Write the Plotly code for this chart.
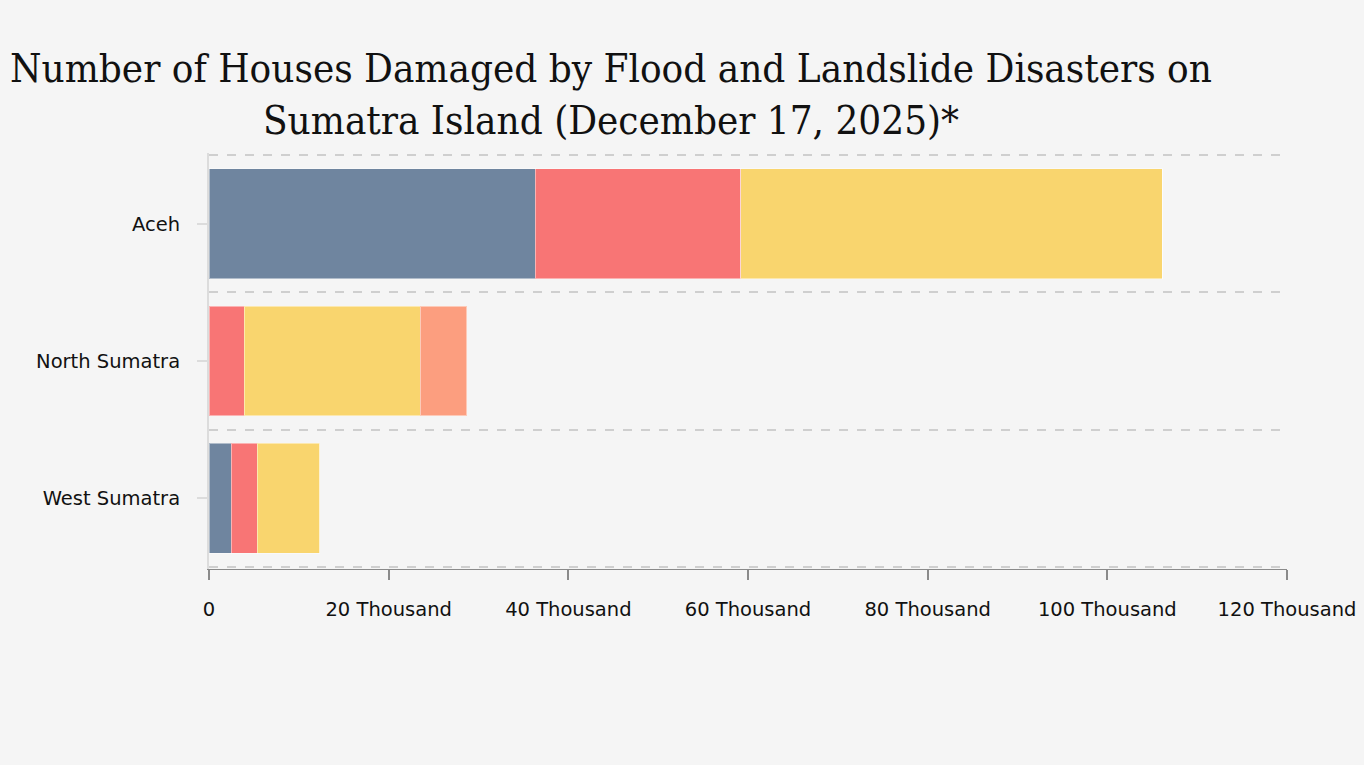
import plotly.graph_objects as go

categories = ["Aceh", "North Sumatra", "West Sumatra"]
series_names = ["Heavily Damaged", "Moderately Damaged", "Lightly Damaged", "Other"]
heavy = [36300, 0, 2450]
moderate = [22900, 3900, 2900]
light = [46900, 19600, 7000]
other = [0, 5200, 0]
series_values = [heavy, moderate, light, other]
series_colors = ["#6f859f", "#f87575", "#f9d56e", "#fc9e7f"]

x_tickvals = [0, 20000, 40000, 60000, 80000, 100000, 120000]
x_ticktext = ["0", "20 Thousand", "40 Thousand", "60 Thousand", "80 Thousand", "100 Thousand", "120 Thousand"]

title_text = "Number of Houses Damaged by Flood and Landslide Disasters on<br>Sumatra Island (December 17, 2025)*"

ypos = list(range(len(categories)))

fig = go.Figure()
for name, vals, col in zip(series_names, series_values, series_colors):
    fig.add_trace(go.Bar(
        y=ypos, x=vals, name=name, orientation="h",
        marker=dict(color=col, line=dict(color="rgba(255,255,255,0.45)", width=1)),
        width=0.8,
        customdata=categories,
        hovertemplate="%{customdata}<br>" + name + ": %{x:,}<extra></extra>",
    ))

fig.update_layout(
    barmode="stack",
    width=1364, height=765,
    paper_bgcolor="#f5f5f5", plot_bgcolor="#f5f5f5",
    margin=dict(l=209, r=77, t=153, b=196),
    showlegend=False,
    title=dict(
        text=title_text,
        x=611 / 1364, xanchor="center", xref="container",
        y=1 - 82 / 765, yanchor="top",
        font=dict(family="DejaVu Serif Condensed, DejaVu Serif, serif", size=40, color="#111"),
    ),
    font=dict(family="DejaVu Sans, Verdana, sans-serif", size=19.5, color="#111"),
)

fig.update_xaxes(
    range=[0, 120000],
    tickvals=x_tickvals, ticktext=x_ticktext,
    showgrid=False, zeroline=False,
    showline=True, linecolor="#8a8a8a", linewidth=1,
    ticks="outside", ticklen=10, tickcolor="#8a8a8a", tickwidth=2,
    ticklabelstandoff=13,
    tickfont=dict(size=19.5, color="#111"),
    automargin=False,
)

fig.update_yaxes(
    range=[2.515, -0.515],
    tickvals=ypos, ticktext=categories,
    showgrid=False, zeroline=False,
    showline=True, linecolor="#dcdcdc", linewidth=2,
    ticks="outside", ticklen=10, tickcolor="#dcdcdc", tickwidth=2,
    ticklabelstandoff=13,
    tickfont=dict(size=19.5, color="#111"),
    minor=dict(tick0=0.5, dtick=1, showgrid=True, gridcolor="#cfcfcf", griddash="dash", gridwidth=2, ticks=""),
    automargin=False,
)

fig.write_html(
    "out.html",
    config={"displayModeBar": False},
    post_script="document.body.style.margin='0';document.body.style.background='#f5f5f5';",
)
